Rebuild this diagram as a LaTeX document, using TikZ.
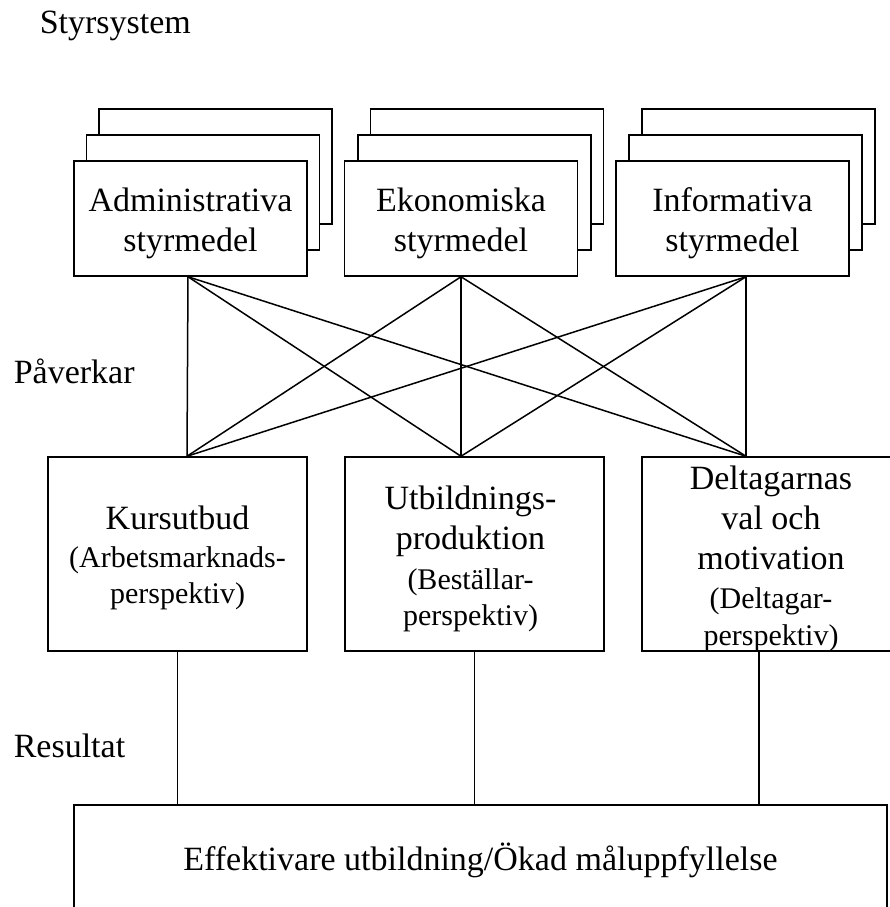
\documentclass[tikz,border=0pt]{standalone}
\usepackage{fontspec}
\setmainfont{Liberation Serif}
\usetikzlibrary{calc}
\newcommand{\smtxt}{\fontsize{30}{35}\selectfont}
\begin{document}
\begin{tikzpicture}[x=1pt,y=-1pt,line width=1.5pt,
  box/.style={draw,fill=white,inner sep=0pt},
  txt/.style={inner sep=0pt,align=center,font=\fontsize{34}{40}\selectfont},
  topbox/.style={box,minimum width=233pt,minimum height=115pt},
  midbox/.style={box,minimum width=259pt,minimum height=194pt},
  lab/.style={anchor=base west,inner sep=0pt,font=\fontsize{34}{40}\selectfont}]
\useasboundingbox (0,0) rectangle (890,907);
\clip (0,0) rectangle (890,907);
% labels
\node[lab] (styr) at (39,34) {Styrsystem};
\node[lab] (pav) at (13,383) {Påverkar};
\node[lab] (res) at (13,757) {Resultat};
% top stacks
\node[topbox] (t1b2) at (215.5,166.5) {};
\node[topbox] (t1b1) at (203,192.5) {};
\node[topbox] (t1) at (190.5,218.5) {};
\node[txt] (t1t) at ([yshift=-5pt]t1.center) {Administrativa\\styrmedel};
\node[topbox] (t2b2) at (487,166.5) {};
\node[topbox] (t2b1) at (474.5,192.5) {};
\node[topbox] (t2) at (461,218.5) {};
\node[txt] (t2t) at ([yshift=-5pt]t2.center) {Ekonomiska\\styrmedel};
\node[topbox] (t3b2) at (758.5,166.5) {};
\node[topbox] (t3b1) at (745.5,192.5) {};
\node[topbox] (t3) at (732.5,218.5) {};
\node[txt] (t3t) at ([yshift=-5pt]t3.center) {Informativa\\styrmedel};
% middle boxes
\node[midbox] (m1) at (177.5,554) {};
\node[txt] (m1t) at ([yshift=-4pt]m1.center) {Kursutbud\\[-2pt]{\smtxt (Arbetsmarknads-}\\[-4pt]{\smtxt perspektiv)}};
\node[midbox] (m2) at (474.5,554) {};
\node[txt] (m2t) at ([yshift=-5pt,xshift=-4pt]m2.center) {Utbildnings-\\produktion\\{\smtxt (Beställar-}\\[-4pt]{\smtxt perspektiv)}};
\node[midbox,minimum width=258pt] (m3) at (771,554) {};
\node[txt] (m3t) at ([yshift=-5pt]m3.center) {Deltagarnas\\val och\\motivation\\[-1pt]{\smtxt (Deltagar-}\\[-3pt]{\smtxt perspektiv)}};
% bottom box
\node[box,minimum width=813pt,minimum height=135pt] (b) at (480.5,872.5) {};
\node[txt,anchor=base] (bt) at (480.5,870) {Effektivare utbildning/Ökad måluppfyllelse};
% anchor points
\coordinate (t1s) at ([xshift=-2.5pt]t1.south);
\coordinate (t2s) at (t2.south);
\coordinate (t3s) at ([xshift=13.5pt]t3.south);
\coordinate (m1n) at ([xshift=9.5pt]m1.north);
\coordinate (m2n) at ([xshift=-13.5pt]m2.north);
\coordinate (m3n) at ([xshift=-25pt]m3.north);
\coordinate (m1s) at (m1.south);
\coordinate (m2s) at (m2.south);
\coordinate (m3s) at ([xshift=-12pt]m3.south);
\foreach \a in {t1s,t2s,t3s}{
  \foreach \b in {m1n,m2n,m3n}{
    \draw (\a) -- (\b);
  }
}
\draw (m1s) -- (m1s |- b.north);
\draw (m2s) -- (m2s |- b.north);
\draw (m3s) -- (m3s |- b.north);
\end{tikzpicture}
\end{document}
